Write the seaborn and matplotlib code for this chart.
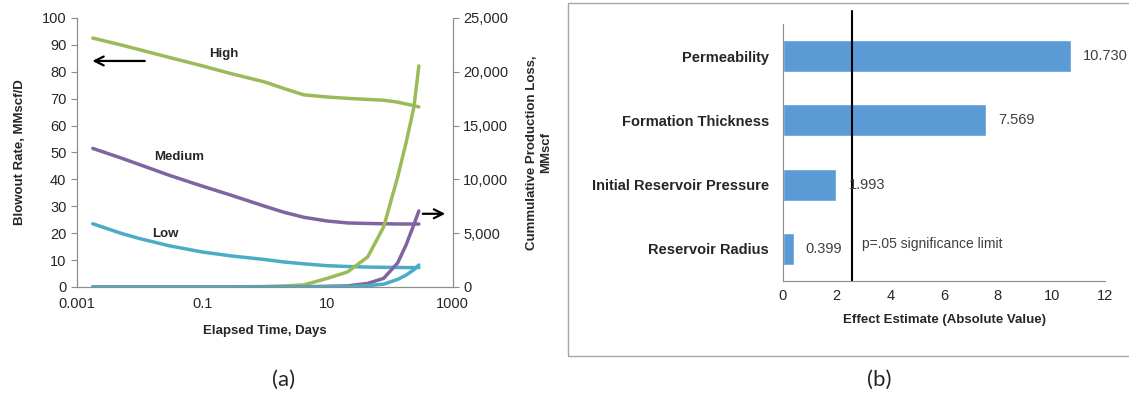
import numpy as np
import pandas as pd
import matplotlib.pyplot as plt
import matplotlib.ticker as mticker
from matplotlib.patches import Rectangle
import seaborn as sns

sns.set_style("white")
plt.rcParams["font.family"] = ["Liberation Sans", "DejaVu Sans"]

# -----------------------------
# DATA
# -----------------------------
# panel (a): blowout rate and cumulative loss vs elapsed time
days = [0.0018, 0.005, 0.01, 0.03, 0.1, 0.3, 1, 2, 4.2, 10, 21, 44, 79, 132, 180, 240, 288]
rate_high = [92.5, 90, 88.2, 85.3, 82.2, 79.2, 76.2, 73.8, 71.4, 70.6, 70.1, 69.7, 69.4, 68.7, 68, 67.4, 66.9]
rate_medium = [51.5, 48, 45.5, 41.5, 37.5, 34, 30, 27.8, 25.9, 24.5, 23.8, 23.6, 23.5, 23.4, 23.4, 23.4, 23.4]
rate_low = [23.5, 20, 18, 15.3, 13, 11.5, 10.2, 9.3, 8.6, 7.9, 7.6, 7.4, 7.3, 7.25, 7.2, 7.2, 7.2]
cum_high = [0, 0, 0, 0, 0, 5, 40, 90, 190, 800, 1400, 2790, 5580, 10200, 13400, 16700, 20540]
cum_medium = [0, 0, 0, 0, 0, 0, 0, 5, 20, 60, 100, 330, 800, 2230, 3900, 5800, 7060]
cum_low = [0, 0, 0, 0, 0, 0, 0, 0, 0, 20, 50, 120, 260, 700, 1100, 1600, 2040]
case_names = ["High", "Medium", "Low"]
case_colors = {"High": "#9BBB59", "Medium": "#8064A2", "Low": "#4BACC6"}

# panel (b): effect estimates
factors = ["Permeability", "Formation Thickness", "Initial Reservoir Pressure", "Reservoir Radius"]
effects = [10.730, 7.569, 1.993, 0.399]
sig_limit = 2.571

rates = pd.DataFrame({
    "days": days * 3,
    "rate": rate_high + rate_medium + rate_low,
    "cum": cum_high + cum_medium + cum_low,
    "case": [c for c in case_names for _ in days],
})
eff = pd.DataFrame({"factor": factors, "effect": effects})

fig = plt.figure(figsize=(11.29, 3.98), dpi=100)
ax = fig.add_axes([0.068, 0.279, 0.333, 0.676])
axb = fig.add_axes([0.6935, 0.294, 0.2855, 0.646])

grey = "#8C8C8C"
txt = "#262626"

# -----------------------------
# (a) BLOWOUT RATE / CUMULATIVE LOSS
# -----------------------------
sns.lineplot(data=rates, x="days", y="rate", hue="case", palette=case_colors,
             linewidth=2.5, legend=False, ax=ax)
ax2 = ax.twinx()
sns.lineplot(data=rates, x="days", y="cum", hue="case", palette=case_colors,
             linewidth=2.5, legend=False, ax=ax2)

ax.set_xscale("log")
ax.set_xlim(0.001, 1000)
ax.set_ylim(0, 100)
ax.set_yticks(range(0, 101, 10))
ax2.set_ylim(0, 25000)
ax2.set_yticks(range(0, 25001, 5000))
ax2.yaxis.set_major_formatter(mticker.FuncFormatter(lambda v, p: f"{int(v):,}"))
for a in (ax, ax2):
    a.set_xticks([0.001, 0.1, 10, 1000])
    a.xaxis.set_major_formatter(mticker.FixedFormatter(["0.001", "0.1", "10", "1000"]))
    a.xaxis.set_minor_locator(mticker.NullLocator())
    for s in a.spines.values():
        s.set_color(grey)
    a.spines["top"].set_visible(False)
    a.tick_params(length=4, color=grey, labelsize=10.5, labelcolor=txt, direction="out")

ax.set_xlabel("Elapsed Time, Days", fontsize=9.5, fontweight="bold", color=txt, labelpad=10)
ax.set_ylabel("Blowout Rate, MMscf/D", fontsize=9.5, fontweight="bold", color=txt, labelpad=11)
ax2.set_ylabel("Cummulative Production Loss,\nMMscf", fontsize=9.5, fontweight="bold",
               color=txt, labelpad=13)

ax.text(0.225, 86.5, "High", fontsize=9.5, fontweight="bold", color=txt, ha="center", va="center")
ax.text(0.043, 48.3, "Medium", fontsize=9.5, fontweight="bold", color=txt, ha="center", va="center")
ax.text(0.026, 19.7, "Low", fontsize=9.5, fontweight="bold", color=txt, ha="center", va="center")
ax.annotate("", xy=(0.0016, 84), xytext=(0.0135, 84),
            arrowprops=dict(arrowstyle="->", color="black", lw=1.6, mutation_scale=16))
ax.annotate("", xy=(840, 27.2), xytext=(300, 27.2),
            arrowprops=dict(arrowstyle="->", color="black", lw=1.6, mutation_scale=16))

# -----------------------------
# (b) EFFECT ESTIMATES
# -----------------------------
sns.barplot(data=eff, x="effect", y="factor", color="#5B9BD5", width=0.5,
            saturation=1, ax=axb)
axb.set_xlim(0, 12)
axb.set_xticks(range(0, 13, 2))
axb.set_ylim(3.5, -0.5)
axb.set_yticks(np.arange(-0.5, 4, 1), minor=True)
axb.tick_params(axis="y", which="major", length=0, pad=10, labelsize=10.5)
axb.tick_params(axis="y", which="minor", length=5, color=grey, direction="out")
axb.tick_params(axis="x", length=5, color=grey, direction="inout", labelsize=10.5, labelcolor=txt)
for lbl in axb.get_yticklabels():
    lbl.set_fontweight("bold")
    lbl.set_color(txt)
for side in ("top", "right"):
    axb.spines[side].set_visible(False)
for side in ("left", "bottom"):
    axb.spines[side].set_color(grey)
axb.set_ylabel("")
axb.set_xlabel("Effect Estimate (Absolute Value)", fontsize=9.5, fontweight="bold",
               color=txt, labelpad=8)

for i, v in enumerate(effects):
    axb.text(v + 0.45, i, f"{v:.3f}", fontsize=10.5, color="#404040", va="center",
             ha="left", clip_on=False)

axb.axvline(sig_limit, ymin=0, ymax=1.05, color="black", lw=1.5, clip_on=False)
axb.text(2.95, 2.93, "p=.05 significance limit", fontsize=10, color="#404040", va="center")

fig.add_artist(Rectangle((0.503, 0.106), 0.6, 0.886, transform=fig.transFigure,
                         fill=False, edgecolor="#A6A6A6", lw=1))

fig.text(0.251, 0.045, "(a)", fontsize=16, family=["Lato", "DejaVu Sans"], ha="center", va="center")
fig.text(0.779, 0.045, "(b)", fontsize=16, family=["Lato", "DejaVu Sans"], ha="center", va="center")

fig.savefig("out.png", dpi=100)
